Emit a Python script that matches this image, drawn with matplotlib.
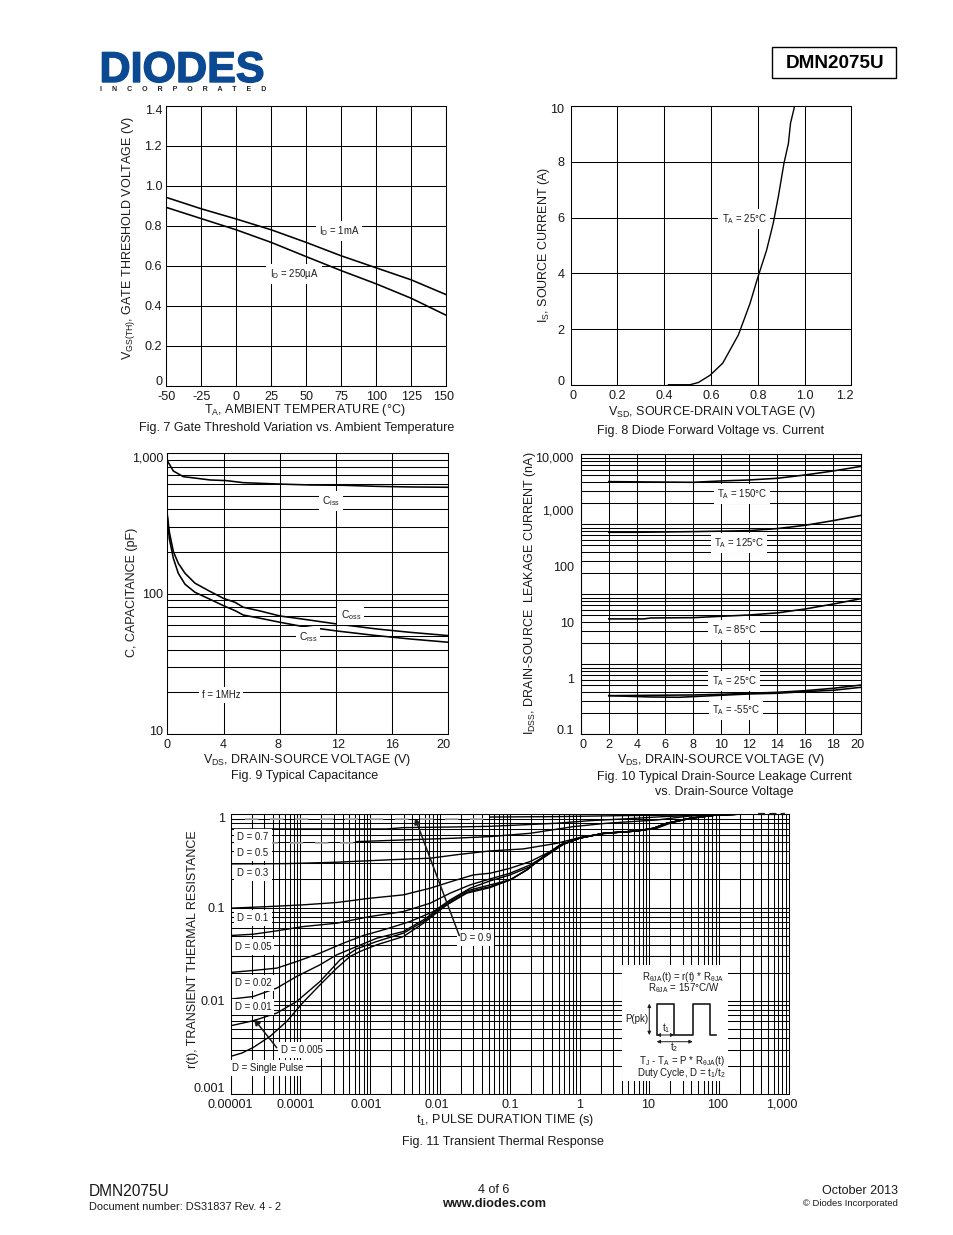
import numpy as np
import matplotlib
matplotlib.use("Agg")
import matplotlib.pyplot as plt
from matplotlib.patches import Rectangle
from matplotlib.transforms import Affine2D
import matplotlib.patheffects as pe

plt.rcParams['font.family'] = ['Liberation Sans', 'DejaVu Sans']
plt.rcParams['mathtext.fontset'] = 'custom'
plt.rcParams['mathtext.rm'] = 'Liberation Sans'
plt.rcParams['mathtext.it'] = 'Liberation Sans'
plt.rcParams['mathtext.bf'] = 'Liberation Sans:bold'
plt.rcParams['mathtext.default'] = 'regular'

INK = '#1a1a1a'
W, H = 954, 1235

# Fig 7
temp = [-50, -25, 0, 25, 50, 75, 100, 125, 150]
vth_1ma = [0.942, 0.885, 0.834, 0.78, 0.717, 0.65, 0.59, 0.53, 0.456]
vth_250ua = [0.892, 0.836, 0.78, 0.717, 0.646, 0.576, 0.51, 0.438, 0.353]

# Fig 8
vsd = [0.418, 0.51, 0.546, 0.596, 0.65, 0.717, 0.767, 0.798, 0.838, 0.866, 0.888, 0.912, 0.931, 0.94, 0.958]
isd = [0.02, 0.02, 0.1, 0.36, 0.79, 1.8, 2.93, 3.8, 4.84, 5.79, 6.75, 7.94, 8.65, 9.37, 10]

# Fig 9
ciss_v = [0, 0.43, 1.14, 2.09, 3.04, 4.22, 5.41, 7.78, 10.15, 12.53, 14.9, 17.27, 20]
ciss = [887, 748, 682, 664, 646, 639, 618, 605, 595, 592, 582, 576, 573]
cap_v = [0, 0.14, 0.43, 0.78, 1.26, 1.97, 3.04, 3.99, 4.82, 5.41, 6.6, 8.02, 9.44, 12.05, 14.9, 17.27, 20]
coss = [364, 277, 200, 165, 140, 119, 104, 92.9, 87, 80.2, 75.5, 69.5, 66.5, 61, 56.2, 53.2, 50.4]
crss = [354, 248, 179, 140, 117, 102.5, 91.4, 82.4, 75.9, 70.6, 67, 62.7, 59, 54.4, 50.4, 47.7, 45.2]

# Fig 10
v150 = [2, 8, 10, 12, 14, 16, 18, 20]
i150 = [3251, 3162, 3342, 3480, 3727, 4276, 5040, 6105]
v125 = [2, 4, 8, 12, 14, 16, 18, 20]
i125 = [405, 405, 416, 433, 471, 540, 654, 814]
v85 = [2, 4.5, 5, 8, 10, 12, 14, 16, 18, 20]
i85 = [11.5, 11.5, 11.95, 12.1, 12.8, 13.5, 14.7, 17.3, 21.2, 26.5]
v25 = [2, 8, 10, 12, 14, 16, 18, 20]
i25 = [0.49, 0.504, 0.518, 0.54, 0.562, 0.602, 0.663, 0.76]
vm55 = [2, 5, 7, 9, 12, 14, 16, 18, 20]
im55 = [0.49, 0.464, 0.458, 0.484, 0.525, 0.54, 0.578, 0.611, 0.692]

# Fig 11, decades of t and r
tail_t = [-0.007, 0.342, 0.82, 1.058, 1.249, 1.584, 1.966, 2.253]
tail_r = [-0.257, -0.204, -0.179, -0.15, -0.096, -0.043, -0.007, 0]
t_single = [-5, -4.84, -4.675, -4.436, -4.197, -3.958, -3.72, -3.48, -3.29, -3.146, -2.907, -2.525, -2.238, -1.904, -1.617, -1.283, -0.996, -0.757, -0.518, -0.28] + tail_t
r_single = [-2.596, -2.561, -2.5, -2.382, -2.221, -2.014, -1.829, -1.65, -1.525, -1.471, -1.4, -1.311, -1.168, -0.971, -0.846, -0.786, -0.704, -0.596, -0.454, -0.329] + tail_r
t_005 = [-5, -4.675, -4.34, -4.054, -3.72, -3.433, -3.194, -2.907, -2.525, -2.238, -1.904, -1.617, -1.283, -0.996, -0.757, -0.518, -0.28] + tail_t
r_005 = [-2.268, -2.214, -2.132, -2.007, -1.793, -1.561, -1.443, -1.364, -1.275, -1.15, -0.971, -0.836, -0.775, -0.704, -0.596, -0.454, -0.329] + tail_r
t_01 = [-5, -4.675, -4.34, -4.054, -3.72, -3.48, -3.194, -2.907, -2.525, -2.238, -1.904, -1.617, -1.283, -0.996, -0.757, -0.518, -0.28] + tail_t
r_01 = [-1.982, -1.954, -1.864, -1.739, -1.614, -1.507, -1.418, -1.329, -1.257, -1.132, -0.954, -0.821, -0.757, -0.704, -0.596, -0.454, -0.329] + tail_r
t_02 = [-5, -4.675, -4.34, -4.054, -3.72, -3.385, -3.098, -2.764, -2.43, -2.095, -1.856, -1.569, -1.283, -0.996, -0.71, -0.471, -0.232] + tail_t
r_02 = [-1.696, -1.675, -1.65, -1.579, -1.489, -1.382, -1.3, -1.229, -1.15, -1.043, -0.918, -0.793, -0.714, -0.65, -0.561, -0.443, -0.321] + tail_r
t_05 = [-5, -4.675, -4.34, -3.958, -3.48, -3.0, -2.525, -2.143, -1.856, -1.569, -1.283, -0.996, -0.71, -0.471, -0.232] + tail_t
r_05 = [-1.3, -1.286, -1.25, -1.204, -1.168, -1.096, -1.043, -0.954, -0.846, -0.757, -0.693, -0.632, -0.543, -0.436, -0.321] + tail_r
t_1 = [-5, -4.436, -3.958, -3.48, -3.0, -2.525, -2.143, -1.808, -1.522, -1.283, -0.996, -0.71, -0.471, -0.232] + tail_t
r_1 = [-1.007, -0.989, -0.971, -0.946, -0.9, -0.864, -0.793, -0.714, -0.65, -0.632, -0.579, -0.507, -0.418, -0.321] + tail_r
t_3 = [-5, -4.197, -3.48, -2.764, -2.143, -1.713, -1.283, -0.805, -0.327, 0.055, 0.389, 0.82, 1.106, 1.297, 1.584, 1.966, 2.253]
r_3 = [-0.532, -0.529, -0.514, -0.489, -0.471, -0.429, -0.393, -0.371, -0.311, -0.239, -0.204, -0.179, -0.15, -0.096, -0.043, -0.007, 0]
t_5 = [-3.194, -2.525, -1.808, -1.283, -0.71, -0.088, 0.389, 1.106, 1.584, 2.253]
r_5 = [-0.293, -0.275, -0.257, -0.239, -0.204, -0.132, -0.096, -0.061, -0.018, 0]
t_7 = [-5, -2.764, -2.525, -1.808, -1.283, -0.327, 0.15, 0.628, 1.2, 1.584, 2.253]
r_7 = [-0.157, -0.157, -0.143, -0.136, -0.129, -0.096, -0.068, -0.05, -0.025, -0.014, 0]
t_9 = [-1.283, -0.327, 0.628, 1.584, 2.253]
r_9 = [-0.029, -0.025, -0.014, -0.007, 0]
curves_11 = [(t_single, r_single), (t_005, r_005), (t_01, r_01), (t_02, r_02), (t_05, r_05),
             (t_1, r_1), (t_3, r_3), (t_5, r_5), (t_7, r_7), (t_9, r_9)]
# faint starts of D = 0.9 and D = 0.5, thick broken end of the curves on the top edge
faint_t9 = [-4.8, -1.3]
faint_r9 = [-0.05, -0.05]
faint_t5 = [-4.87, -3.2]
faint_r5 = [-0.304, -0.304]
end_t = [2.55, 2.94]
end_r = [0, 0]

fig = plt.figure(figsize=(W / 100, H / 100), dpi=100)


def make_axes(left, top, right, bottom, z=2, ypad=3):
    ax = fig.add_axes([left / W, 1 - bottom / H, (right - left) / W, (bottom - top) / H], zorder=z)
    ax.set_facecolor('none')
    for s in ax.spines.values():
        s.set_linewidth(0.75)
        s.set_color('black')
    ax.tick_params(which='both', length=0, labelsize=9.1, labelcolor=INK, pad=3.5)
    ax.tick_params(axis='y', pad=ypad)
    ax.set_axisbelow(True)
    return ax


def grid(ax, which='major', axis='both'):
    ax.grid(True, which=which, axis=axis, color='black', lw=0.75)


def nudge(labels, offsets):
    # shift tick labels by pixels, the sheet has them squeezed in from the ends
    for i, (dx, dy) in offsets.items():
        lab = labels[i]
        lab.set_transform(lab.get_transform() + Affine2D().translate(dx, dy))


# Fig 7
ax7 = make_axes(166.3, 105.7, 446.3, 386)
ax7.plot(temp, vth_1ma, color='black', lw=1.15)
ax7.plot(temp, vth_250ua, color='black', lw=1.15)
ax7.set_xlim(-50, 150)
ax7.set_ylim(0, 1.4)
ax7.set_xticks(temp, [str(t) for t in temp])
ax7.set_yticks([0, 0.2, 0.4, 0.6, 0.8, 1.0, 1.2, 1.4], ['0', '0.2', '0.4', '0.6', '0.8', '1.0', '1.2', '1.4'])
grid(ax7)
nudge(ax7.get_yticklabels(), {0: (0, 5.3), 7: (0, -3.3)})
nudge(ax7.get_xticklabels(), {8: (-3, 0)})

# Fig 8
ax8 = make_axes(570.7, 105.7, 851.3, 385.3, ypad=4.5)
ax8.plot(vsd, isd, color='black', lw=1.0)
ax8.set_xlim(0, 1.2)
ax8.set_ylim(0, 10)
ax8.set_xticks([0, 0.2, 0.4, 0.6, 0.8, 1.0, 1.2], ['0', '0.2', '0.4', '0.6', '0.8', '1.0', '1.2'])
ax8.set_yticks([0, 2, 4, 6, 8, 10])
grid(ax8)
nudge(ax8.get_yticklabels(), {0: (0, 4.6), 5: (0, -2.5)})
nudge(ax8.get_xticklabels(), {0: (2, 0), 6: (-6, 0)})

# Fig 9
ax9 = make_axes(167.3, 453.3, 448.3, 734.3)
ax9.plot(ciss_v, ciss, color='black', lw=1.15)
ax9.plot(cap_v, coss, color='black', lw=1.15)
ax9.plot(cap_v, crss, color='black', lw=1.15)
ax9.set_xlim(0, 20)
ax9.set_yscale('log')
ax9.set_ylim(10, 1000)
ax9.set_xticks([0, 4, 8, 12, 16, 20])
ax9.set_yticks([10, 100, 1000], ['10', '100', '1,000'])
ax9.yaxis.set_minor_locator(matplotlib.ticker.LogLocator(base=10, subs=range(2, 10)))
ax9.yaxis.set_minor_formatter(matplotlib.ticker.NullFormatter())
grid(ax9, 'both')
nudge(ax9.get_yticklabels(), {0: (0, 3.6), 2: (0, -3.4)})
nudge(ax9.get_xticklabels(), {2: (-1.5, 0), 3: (2, 0), 5: (-5, 0)})

# Fig 10: the sheet's grid has four decades under five labelled ones
ax10g = make_axes(580.7, 454.3, 861.3, 734.3, z=1)
ax10g.set_yscale('log')
ax10g.set_ylim(1, 10000)
ax10g.set_xlim(0, 20)
ax10g.set_xticks(range(0, 21, 2))
ax10g.yaxis.set_minor_locator(matplotlib.ticker.LogLocator(base=10, subs=range(2, 10)))
ax10g.tick_params(which='both', labelbottom=False, labelleft=False)
grid(ax10g, 'both')
ax10 = make_axes(580.7, 454.3, 861.3, 734.3, ypad=5)
for vv, ii in [(v150, i150), (v125, i125), (v85, i85), (v25, i25), (vm55, im55)]:
    ax10.plot(vv, ii, color='black', lw=1.15)
ax10.set_xlim(0, 20)
ax10.set_yscale('log')
ax10.set_ylim(0.1, 10000)
ax10.set_xticks(range(0, 21, 2))
ax10.set_yticks([0.1, 1, 10, 100, 1000, 10000], ['0.1', '1', '10', '100', '1,000', '10,000'])
ax10.yaxis.set_minor_locator(matplotlib.ticker.NullLocator())
nudge(ax10.get_yticklabels(), {0: (0, 5), 5: (0, -2.4)})
nudge(ax10.get_xticklabels(), {0: (2.5, 0), 10: (-3.5, 0)})

# Fig 11
ax11 = make_axes(230.7, 814.3, 789, 1094, ypad=4)
for tt, rr in curves_11:
    ax11.plot(10.0 ** np.array(tt), 10.0 ** np.array(rr), color='black', lw=1.0)
for tt, rr in [(faint_t9, faint_r9), (faint_t5, faint_r5)]:
    ax11.plot(10.0 ** np.array(tt), 10.0 ** np.array(rr), color='#aaaaaa', lw=1.2, ls=(0, (8, 7)))
ax11.plot(10.0 ** np.array(end_t), 10.0 ** np.array(end_r), color='#222222', lw=1.6, ls=(0, (3.2, 1.9)), clip_on=False)
ax11.set_xscale('log')
ax11.set_yscale('log')
ax11.set_xlim(1e-5, 1e3)
ax11.set_ylim(1e-3, 1)
ax11.set_xticks([1e-5, 1e-4, 1e-3, 1e-2, 1e-1, 1, 10, 100, 1000],
                ['0.00001', '0.0001', '0.001', '0.01', '0.1', '1', '10', '100', '1,000'])
ax11.set_yticks([1e-3, 1e-2, 1e-1, 1], ['0.001', '0.01', '0.1', '1'])
for a in (ax11.xaxis, ax11.yaxis):
    a.set_minor_locator(matplotlib.ticker.LogLocator(base=10, subs=range(2, 10), numticks=20))
    a.set_minor_formatter(matplotlib.ticker.NullFormatter())
grid(ax11, 'both')
nudge(ax11.get_yticklabels(), {0: (0, 6), 3: (0, -3)})
nudge(ax11.get_xticklabels(), {1: (-4.5, 0), 2: (-4, 0), 3: (-3, 0), 6: (-1.5, 0), 7: (-1.3, 0), 8: (-7, 0)})

# page overlay, coordinates in pixels from the top left
page = fig.add_axes([0, 0, 1, 1], zorder=5)
page.set_xlim(0, W)
page.set_ylim(H, 0)
page.axis('off')


def txt(x, y, s, size=9.0, ha='center', rotation=0, **kw):
    kw.setdefault('color', INK)
    if rotation == 0:
        y += 1.5
    page.text(x, y, s, fontsize=size, ha=ha, va='center', rotation=rotation, **kw)


def note(x, y, s, size=6.9):
    page.text(x, y + 1, s, fontsize=size, ha='center', va='center', color=INK,
              bbox=dict(fc='white', ec='none', pad=2.2))


# logo and part number
logo = page.text(99.5, 71, 'DIODES', fontsize=31, ha='left', va='center', color='#0b4a93', fontweight='bold')
logo.set_path_effects([pe.withStroke(linewidth=1.0, foreground='#0b4a93')])
page.plot([100, 176], [65.7, 65.7], color='white', lw=0.8)
page.text(100, 89.5, 'I     N     C     O     R     P     O     R     A     T     E     D', fontsize=5,
          ha='left', va='center', color='#222222', fontweight='bold')
page.add_patch(Rectangle((772.3, 46.7), 124, 31.6, fc='white', ec='black', lw=1.0))
txt(835, 61.5, 'DMN2075U', size=13.6, fontweight='bold', color='black')

# axis labels and captions
txt(128.5, 238, r'$V_{GS(TH)}$, GATE THRESHOLD VOLTAGE (V)', rotation=90)
txt(305, 409, r'$T_A$, AMBIENT TEMPERATURE (°C)')
txt(297, 426.5, 'Fig. 7 Gate Threshold Variation vs. Ambient Temperature')
txt(544, 245, r'$I_S$, SOURCE CURRENT (A)', rotation=90)
txt(712, 410, r'$V_{SD}$, SOURCE-DRAIN VOLTAGE (V)')
txt(711, 429.5, 'Fig. 8 Diode Forward Voltage vs. Current')
txt(132.5, 592, 'C, CAPACITANCE (pF)', rotation=90)
txt(307, 759, r'$V_{DS}$, DRAIN-SOURCE VOLTAGE (V)')
txt(305, 774.5, 'Fig. 9 Typical Capacitance')
txt(530, 593, r'$I_{DSS}$, DRAIN-SOURCE  LEAKAGE CURRENT (nA)', rotation=90)
txt(721, 758, r'$V_{DS}$, DRAIN-SOURCE VOLTAGE (V)')
txt(724, 775.5, 'Fig. 10 Typical Drain-Source Leakage Current')
txt(724, 790.5, 'vs. Drain-Source Voltage')
txt(193, 949, 'r(t), TRANSIENT THERMAL RESISTANCE', rotation=90)
txt(505, 1119, r'$t_1$, PULSE DURATION TIME (s)')
txt(503, 1140.5, 'Fig. 11 Transient Thermal Response')

# curve notes
note(339, 230, r'$I_D$ = 1mA')
note(294, 273, r'$I_D$ = 250µA')
note(744, 218, r'$T_A$ = 25°C')
note(330.7, 500, r'$C_{iss}$', 7.4)
note(350.7, 614, r'$C_{oss}$', 7.4)
note(308, 636, r'$C_{rss}$', 7.4)
note(221, 694, 'f = 1MHz')
note(742, 493, r'$T_A$ = 150°C')
note(739, 542, r'$T_A$ = 125°C')
note(734, 629, r'$T_A$ = 85°C')
note(734, 680, r'$T_A$ = 25°C')
note(735.7, 709, r'$T_A$ = -55°C')
for y, s in [(835.7, 'D = 0.7'), (852.3, 'D = 0.5'), (871.7, 'D = 0.3'), (916.7, 'D = 0.1'), (945.7, 'D = 0.05'),
             (981.7, 'D = 0.02'), (1006.3, 'D = 0.01')]:
    note(253, y, s)
note(301.7, 1049.3, 'D = 0.005')
note(267.3, 1066.7, 'D = Single Pulse')
note(475.7, 936.7, 'D = 0.9')
page.annotate('', xy=(415, 818), xytext=(459.3, 935.7),
              arrowprops=dict(arrowstyle='-|>', color=INK, lw=1.1, mutation_scale=9, shrinkA=0, shrinkB=0))
page.annotate('', xy=(254, 1019), xytext=(276.7, 1047.7),
              arrowprops=dict(arrowstyle='-|>', color=INK, lw=1.1, mutation_scale=9, shrinkA=0, shrinkB=0))

# duty cycle inset
page.add_patch(Rectangle((621.7, 965), 106.6, 116, fc='white', ec='none'))
pulse_x = [656.7, 656.7, 674.3, 674.3, 692.7, 692.7, 710, 710, 716]
pulse_y = [1035, 1003.7, 1003.7, 1035, 1035, 1003.7, 1003.7, 1035, 1035]
page.plot(pulse_x, pulse_y, color=INK, lw=1.2)
arrow = dict(arrowstyle='<|-|>', color=INK, lw=0.7, mutation_scale=5, shrinkA=0, shrinkB=0)
page.annotate('', xy=(649.3, 1003.7), xytext=(649.3, 1035), arrowprops=arrow)
page.annotate('', xy=(656.7, 1035), xytext=(674.3, 1035), arrowprops=arrow)
page.annotate('', xy=(656.7, 1041.7), xytext=(692.7, 1041.7), arrowprops=arrow)
txt(683.3, 975, r'$R_{\theta JA}$(t) = r(t) * $R_{\theta JA}$', size=7)
txt(683.3, 987, r'$R_{\theta JA}$ = 157°C/W', size=7)
txt(636.7, 1017.5, 'P(pk)', size=7)
txt(665.7, 1026.5, r'$t_1$', size=7)
txt(674, 1046, r'$t_2$', size=7)
txt(681.7, 1059, r'$T_J$ - $T_A$ = P * $R_{\theta JA}$(t)', size=7)
txt(681.7, 1071.7, r'Duty Cycle, D = $t_1$/$t_2$', size=7)

# footer
txt(89, 1189.5, 'DMN2075U', size=11.2, ha='left')
txt(89, 1205, 'Document number: DS31837 Rev. 4 - 2', size=7.9, ha='left')
txt(494, 1188.5, '4 of 6', size=9)
txt(494, 1202.5, 'www.diodes.com', size=9.2, fontweight='bold')
txt(898, 1189.5, 'October 2013', size=9, ha='right')
txt(898, 1202.5, '© Diodes Incorporated', size=6.8, ha='right')

fig.savefig('out.png', dpi=100)
